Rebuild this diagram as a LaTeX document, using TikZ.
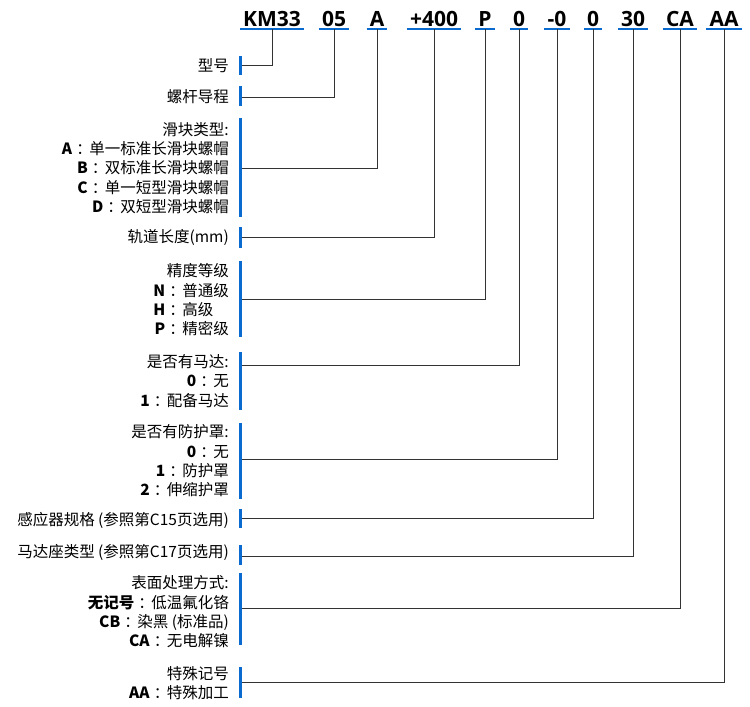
\documentclass[tikz,border=0pt]{standalone}
\usepackage{fontspec}
\setmainfont{Noto Sans CJK SC}
\newfontfamily\codefont{Open Sans}
\definecolor{barblue}{HTML}{0A6ACF}
\definecolor{linegray}{HTML}{333333}
\newcommand\cln{\kern4pt：\kern-2.5pt}
\begin{document}
\begin{tikzpicture}[x=1pt,y=-1pt,
  code/.style={font=\codefont\bfseries\fontsize{21}{24}\selectfont, text=black, inner xsep=3pt, inner ysep=2pt, anchor=south},
  lab/.style={font=\fontsize{15.5}{19.3}\selectfont, align=right, anchor=east, inner sep=0pt, text=black},
  bar/.style={fill=barblue, draw=none},
  uline/.style={draw=barblue, line width=1.3pt},
  conn/.style={draw=linegray, line width=1pt}]
\useasboundingbox (0,0) rectangle (750,707);
% code row
\foreach \n/\x/\t in {k1/272/KM33, k2/334/05, k3/377/A, k4/434/+400, k5/485/P, k6/519/0, k7/557/-0, k8/593/0, k9/633/30, k10/680/CA, k11/724/AA}{
  \node[code] (\n) at (\x,29) {\t};
  \draw[uline] (\n.south west) -- (\n.south east);
}
% bars
\newcommand\grp[4]{% name, y1, y2, ymid(line)
  \fill[bar] (239,#2) rectangle (242,#3);
  \coordinate (#1) at (242,#4);
}
\grp{b1}{56}{75}{65}
\grp{b2}{86}{106}{97}
\grp{b3}{118}{217}{168}
\grp{b4}{227}{248}{237}
\grp{b5}{261}{337}{299}
\grp{b6}{352}{410}{365}
\grp{b7}{423}{499}{459}
\grp{b8}{509}{528}{518}
\grp{b9}{545}{565}{556}
\grp{b10}{573}{645}{608}
\grp{b11}{667}{698}{682}

\node[lab] (l1) at (229,66) {型号};
\node[lab] (l2) at (229,97) {螺杆导程};
\node[lab] (l3) at (229,168) {滑块类型:\\\textbf{A}\cln 单一标准长滑块螺帽\\\textbf{B}\cln 双标准长滑块螺帽\\\textbf{C}\cln 单一短型滑块螺帽\\\textbf{D}\cln 双短型滑块螺帽};
\node[lab] (l4) at (229,237) {轨道长度(mm)};
\node[lab] (l5) at (229,300) {精度等级\\\textbf{N}\cln 普通级\\\textbf{H}\cln 高级\hphantom{级}\\\textbf{P}\cln 精密级};
\node[lab] (l6) at (229,381) {是否有马达:\\\textbf{0}\cln 无\\\textbf{1}\cln 配备马达};
\node[lab] (l7) at (229,461) {是否有防护罩:\\\textbf{0}\cln 无\\\textbf{1}\cln 防护罩\\\textbf{2}\cln 伸缩护罩};
\node[lab] (l8) at (229,520) {感应器规格 (参照第C15页选用)};
\node[lab] (l9) at (229,552) {马达座类型 (参照第C17页选用)};
\node[lab] (l10) at (229,612) {表面处理方式:\\\textbf{无记号}\cln 低温氟化铬\\\textbf{CB}\cln 染黑 (标准品)\\\textbf{CA}\cln 无电解镍};
\node[lab] (l11) at (229,683) {特殊记号\\\textbf{AA}\cln 特殊加工};

% connectors
\foreach \k/\b in {k1/b1, k2/b2, k3/b3, k4/b4, k5/b5, k6/b6, k7/b7, k8/b8, k9/b9, k10/b10, k11/b11}{
  \draw[conn] (\k.south) |- (\b);
}
\end{tikzpicture}
\end{document}
